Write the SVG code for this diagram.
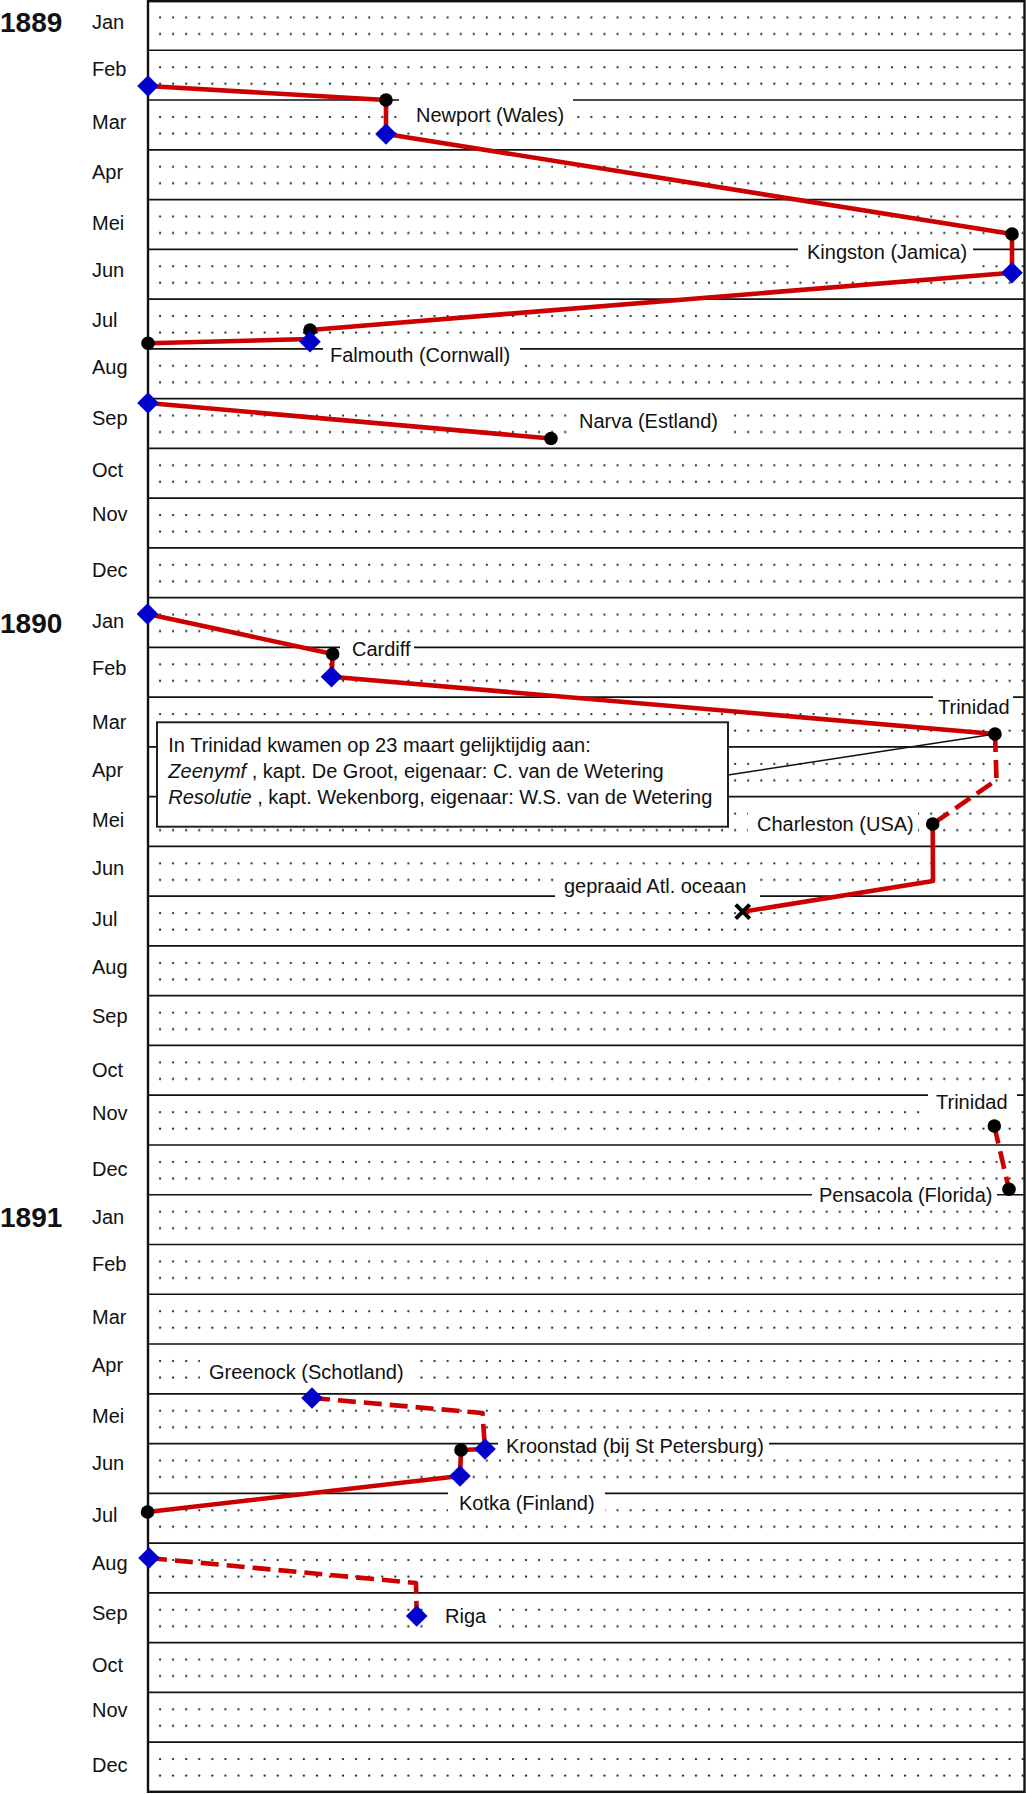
<svg xmlns="http://www.w3.org/2000/svg" xmlns:xlink="http://www.w3.org/1999/xlink" width="1026" height="1794" viewBox="0 0 1026 1794">
<style>
text{font-family:"Liberation Sans",Arial,sans-serif;font-size:20px;fill:#111}
.yr{font-weight:bold;font-size:28px}
.bg{fill:#fff}
.route{fill:none;stroke:#cc0000;stroke-width:4.6;stroke-linejoin:round}
.dash{stroke-dasharray:18 8}
.grid{fill:none;stroke:#111;stroke-width:1.7}
.frame{fill:none;stroke:#111;stroke-width:2.4}
.box{fill:#fff;stroke:#222;stroke-width:2}
.lead{fill:none;stroke:#111;stroke-width:1.5}
</style>
<defs>
<pattern id="dots" patternUnits="userSpaceOnUse" x="153.535" y="0.5" width="13.07" height="49.76">
<circle cx="6.535" cy="17" r="1.15" fill="#222"/>
<circle cx="6.535" cy="33.5" r="1.15" fill="#222"/>
</pattern>
<path id="dia" d="M0,-10.8 L10.8,0 L0,10.8 L-10.8,0Z" fill="#0000cc"/>
<circle id="pt" r="6.8" fill="#000"/>
</defs>
<rect width="1026" height="1794" fill="#fff"/>
<g id="grid">
<rect x="149" y="1" width="875" height="1790.8" fill="url(#dots)"/>
<path class="grid" d="M148 50.26H1024M148 100.02H1024M148 149.78H1024M148 199.54H1024M148 249.3H1024M148 299.06H1024M148 348.82H1024M148 398.58H1024M148 448.34H1024M148 498.1H1024M148 547.86H1024M148 597.62H1024M148 647.38H1024M148 697.14H1024M148 746.9H1024M148 796.66H1024M148 846.42H1024M148 896.18H1024M148 945.94H1024M148 995.7H1024M148 1045.46H1024M148 1095.22H1024M148 1144.98H1024M148 1194.74H1024M148 1244.5H1024M148 1294.26H1024M148 1344.02H1024M148 1393.78H1024M148 1443.54H1024M148 1493.3H1024M148 1543.06H1024M148 1592.82H1024M148 1642.58H1024M148 1692.34H1024M148 1742.1H1024"/>
<rect class="frame" x="148" y="1.2" width="876.5" height="1790.6"/>
</g>
<g id="axis">
<text class="yr" x="0" y="32">1889</text>
<text class="yr" x="0" y="633">1890</text>
<text class="yr" x="0" y="1227">1891</text>
<text x="92" y="29">Jan</text>
<text x="92" y="76">Feb</text>
<text x="92" y="129">Mar</text>
<text x="92" y="178.6">Apr</text>
<text x="92" y="230">Mei</text>
<text x="92" y="277">Jun</text>
<text x="92" y="327">Jul</text>
<text x="92" y="374">Aug</text>
<text x="92" y="424.6">Sep</text>
<text x="92" y="477">Oct</text>
<text x="92" y="520.7">Nov</text>
<text x="92" y="576.7">Dec</text>
<text x="92" y="628">Jan</text>
<text x="92" y="675">Feb</text>
<text x="92" y="729">Mar</text>
<text x="92" y="777">Apr</text>
<text x="92" y="827">Mei</text>
<text x="92" y="875">Jun</text>
<text x="92" y="925.6">Jul</text>
<text x="92" y="973.7">Aug</text>
<text x="92" y="1023">Sep</text>
<text x="92" y="1076.6">Oct</text>
<text x="92" y="1120">Nov</text>
<text x="92" y="1176">Dec</text>
<text x="92" y="1224">Jan</text>
<text x="92" y="1271">Feb</text>
<text x="92" y="1323.7">Mar</text>
<text x="92" y="1371.8">Apr</text>
<text x="92" y="1423.3">Mei</text>
<text x="92" y="1470">Jun</text>
<text x="92" y="1521.7">Jul</text>
<text x="92" y="1569.7">Aug</text>
<text x="92" y="1620">Sep</text>
<text x="92" y="1671.5">Oct</text>
<text x="92" y="1717.3">Nov</text>
<text x="92" y="1772.2">Dec</text>
</g>
<g id="label-backgrounds">
<rect class="bg" x="399" y="92" width="174" height="35"/>
<rect class="bg" x="798" y="240" width="175" height="28"/>
<rect class="bg" x="323" y="340" width="197" height="32"/>
<rect class="bg" x="570" y="407" width="160" height="33"/>
<rect class="bg" x="340" y="637" width="74" height="23"/>
<rect class="bg" x="933" y="689" width="80" height="31"/>
<rect class="bg" x="748" y="806" width="170" height="32"/>
<rect class="bg" x="555" y="870" width="205" height="31"/>
<rect class="bg" x="928" y="1088" width="89" height="30"/>
<rect class="bg" x="812" y="1186" width="185" height="22"/>
<rect class="bg" x="200" y="1352" width="210" height="34"/>
<rect class="bg" x="498" y="1434" width="271" height="23"/>
<rect class="bg" x="448" y="1487" width="157" height="29"/>
<rect class="bg" x="432" y="1602" width="63" height="30"/>
</g>
<g id="connectors">
<polyline class="route" points="148,86 386,100 386,134 1012,234 1012,272.7 310,330 310,339 148,343.3"/>
<polyline class="route" points="148,403 551,438.5"/>
<polyline class="route" points="147.5,614 332.7,654 331.5,676.7 995,734"/>
<polyline class="route dash" points="995,734 996.5,780 932.7,824"/>
<polyline class="route" points="932.7,824 933,881 742.7,911.7"/>
<polyline class="route dash" points="994.3,1126 1009,1189.3"/>
<polyline class="route dash" points="312,1398 482.5,1413 485,1449"/>
<polyline class="route" points="485,1449 461,1450 460,1476 147.5,1512"/>
<polyline class="route dash" points="149,1558 416,1583 416.7,1616"/>
<line class="lead" x1="728" y1="775" x2="995" y2="734"/>
</g>
<g id="node-start-1889">
<use xlink:href="#dia" x="148" y="86"/>
</g>
<g id="node-newport">
<use xlink:href="#pt" x="386" y="100"/>
<use xlink:href="#dia" x="386" y="134"/>
<text x="416" y="122">Newport (Wales)</text>
</g>
<g id="node-kingston">
<use xlink:href="#pt" x="1012" y="234"/>
<use xlink:href="#dia" x="1012" y="272.7"/>
<text x="807" y="259">Kingston (Jamica)</text>
</g>
<g id="node-falmouth">
<use xlink:href="#pt" x="310" y="330"/>
<use xlink:href="#dia" x="310" y="341.7"/>
<text x="330" y="362">Falmouth (Cornwall)</text>
</g>
<g id="node-wrap-aug">
<use xlink:href="#pt" x="148" y="343.3"/>
</g>
<g id="node-start-sep">
<use xlink:href="#dia" x="148" y="403"/>
</g>
<g id="node-narva">
<use xlink:href="#pt" x="551" y="438.5"/>
<text x="579" y="428">Narva (Estland)</text>
</g>
<g id="node-start-1890">
<use xlink:href="#dia" x="147.5" y="614"/>
</g>
<g id="node-cardiff">
<use xlink:href="#pt" x="332.7" y="654"/>
<use xlink:href="#dia" x="331.5" y="676.7"/>
<text x="352" y="656">Cardiff</text>
</g>
<g id="node-trinidad-1">
<use xlink:href="#pt" x="995" y="734"/>
<text x="938" y="714">Trinidad</text>
</g>
<g id="node-note">
<rect class="box" x="157" y="722.3" width="571" height="104.4"/>
<text x="168.3" y="752">In Trinidad kwamen op 23 maart gelijktijdig aan:</text>
<text x="168.3" y="778"><tspan font-style="italic">Zeenymf</tspan> , kapt. De Groot, eigenaar: C. van de Wetering</text>
<text x="168.3" y="804"><tspan font-style="italic">Resolutie</tspan> , kapt. Wekenborg, eigenaar: W.S. van de Wetering</text>
</g>
<g id="node-charleston">
<use xlink:href="#pt" x="932.7" y="824"/>
<text x="757" y="831">Charleston (USA)</text>
</g>
<g id="node-gepraaid">
<path d="M735.7,904.7 L749.7,918.7 M749.7,904.7 L735.7,918.7" stroke="#000" stroke-width="4" fill="none"/>
<text x="564" y="893">gepraaid Atl. oceaan</text>
</g>
<g id="node-trinidad-2">
<use xlink:href="#pt" x="994.3" y="1126"/>
<text x="936" y="1109">Trinidad</text>
</g>
<g id="node-pensacola">
<use xlink:href="#pt" x="1009" y="1189.3"/>
<text x="819" y="1202">Pensacola (Florida)</text>
</g>
<g id="node-greenock">
<use xlink:href="#dia" x="312" y="1398"/>
<text x="209" y="1379">Greenock (Schotland)</text>
</g>
<g id="node-kroonstad">
<use xlink:href="#pt" x="461" y="1450"/>
<use xlink:href="#dia" x="485" y="1449"/>
<text x="506" y="1453">Kroonstad (bij St Petersburg)</text>
</g>
<g id="node-kotka">
<use xlink:href="#dia" x="460" y="1476"/>
<text x="459" y="1510">Kotka (Finland)</text>
</g>
<g id="node-wrap-jul-1891">
<use xlink:href="#pt" x="147.5" y="1512"/>
</g>
<g id="node-start-aug-1891">
<use xlink:href="#dia" x="149" y="1558"/>
</g>
<g id="node-riga">
<use xlink:href="#dia" x="416.7" y="1616"/>
<text x="445" y="1623">Riga</text>
</g>
</svg>
